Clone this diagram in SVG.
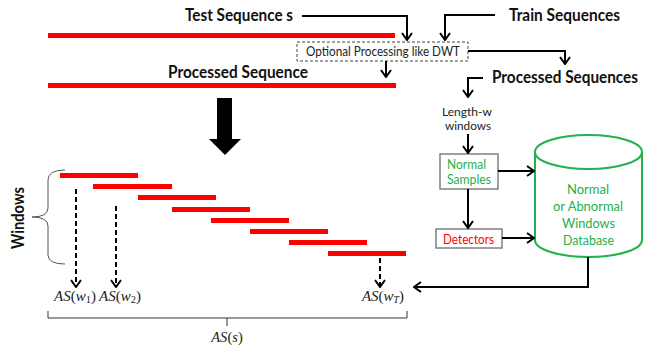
<svg xmlns="http://www.w3.org/2000/svg" width="653" height="350" viewBox="0 0 653 350">
<defs>
<marker id="ah" viewBox="0 0 10 12" refX="9" refY="6" markerWidth="10" markerHeight="12" markerUnits="userSpaceOnUse" orient="auto">
<path d="M2,1 L9,6 L2,11" fill="none" stroke="#000" stroke-width="2" stroke-dasharray="none"/>
</marker>
</defs>
<style>
.big{font-family:Lato,"Liberation Sans",sans-serif;font-weight:bold;font-size:16.5px;fill:#111;}
.sm{font-family:Lato,"Liberation Sans",sans-serif;font-size:13px;fill:#222;}
.xs{font-family:Lato,"Liberation Sans",sans-serif;font-size:12px;fill:#222;}
.gr{fill:#22b14c;}
.rd{fill:#ff0000;}
.bar{fill:#ff0000;}
.con{fill:none;stroke:#000;stroke-width:2;marker-end:url(#ah);}
.dash{stroke-dasharray:5,3;}
.box{fill:#fff;stroke:#808080;stroke-width:1.5;}
.math{font-family:"Liberation Serif",serif;font-size:14.5px;fill:#222;}
.it{font-style:italic;}
</style>
<rect width="653" height="350" fill="#fff"/>

<g id="test-sequence">
<text class="big" x="185" y="21" textLength="108" lengthAdjust="spacingAndGlyphs">Test Sequence s</text>
<rect class="bar" x="48" y="33" width="347" height="5"/>
</g>
<g id="train-sequences">
<text class="big" x="509" y="21" textLength="111" lengthAdjust="spacingAndGlyphs">Train Sequences</text>
</g>
<g id="processing">
<rect x="297" y="42" width="171" height="19" fill="#fff" stroke="#444" stroke-width="1" stroke-dasharray="3,2"/>
<text class="sm" x="306" y="56" textLength="154" lengthAdjust="spacingAndGlyphs">Optional Processing like DWT</text>
</g>
<g id="processed-sequence">
<text class="big" x="168" y="78" textLength="140" lengthAdjust="spacingAndGlyphs">Processed Sequence</text>
<rect class="bar" x="48" y="83" width="348" height="5"/>
</g>
<g id="processed-sequences">
<text class="big" x="492" y="83" textLength="146" lengthAdjust="spacingAndGlyphs">Processed Sequences</text>
</g>
<g id="length-w">
<text class="xs" x="442" y="116" textLength="50" lengthAdjust="spacingAndGlyphs">Length-w</text>
<text class="xs" x="445" y="130" textLength="46" lengthAdjust="spacingAndGlyphs">windows</text>
</g>
<g id="normal-samples">
<rect class="box" x="440" y="154" width="58" height="35"/>
<text class="sm gr" x="447" y="169" textLength="39" lengthAdjust="spacingAndGlyphs">Normal</text>
<text class="sm gr" x="447" y="184" textLength="44" lengthAdjust="spacingAndGlyphs">Samples</text>
</g>
<g id="detectors">
<rect class="box" x="436" y="229" width="66" height="19"/>
<text class="sm rd" x="443" y="244" textLength="51" lengthAdjust="spacingAndGlyphs">Detectors</text>
</g>
<g id="database">
<path d="M535,152 A53.5,17 0 0 1 642,152 V240 A53.5,17 0 0 1 535,240 Z" fill="#fff" stroke="#22b14c" stroke-width="2"/>
<path d="M535,152 A53.5,17 0 0 0 642,152" fill="none" stroke="#22b14c" stroke-width="2"/>
<text class="sm gr" x="567" y="194" textLength="42" lengthAdjust="spacingAndGlyphs">Normal</text>
<text class="sm gr" x="553" y="211" textLength="70" lengthAdjust="spacingAndGlyphs">or Abnormal</text>
<text class="sm gr" x="562" y="228" textLength="53" lengthAdjust="spacingAndGlyphs">Windows</text>
<text class="sm gr" x="563" y="245" textLength="51" lengthAdjust="spacingAndGlyphs">Database</text>
</g>
<g id="big-arrow">
<polygon points="217,98 232,98 232,139 241,139 225,155 209,139 217,139" fill="#000"/>
</g>
<g id="windows">
<rect class="bar" x="60" y="173" width="78" height="5"/>
<rect class="bar" x="93" y="184" width="79" height="5"/>
<rect class="bar" x="138" y="195" width="78" height="5"/>
<rect class="bar" x="172" y="207" width="78" height="5"/>
<rect class="bar" x="211" y="218" width="78" height="5"/>
<rect class="bar" x="250" y="229" width="78" height="5"/>
<rect class="bar" x="289" y="240" width="78" height="5"/>
<rect class="bar" x="328" y="251" width="78" height="5"/>
<path d="M65,170 Q48,170 48,180 L48,208 Q48,217 32,217 Q48,217 48,226 L48,255 Q48,264 65,264" fill="none" stroke="#555" stroke-width="1"/>
<text class="big" transform="translate(24,249) rotate(-90)" x="0" y="0" font-size="17.5" textLength="62" lengthAdjust="spacingAndGlyphs">Windows</text>
</g>
<g id="scores">
<text class="math" x="54" y="301" textLength="42" lengthAdjust="spacingAndGlyphs"><tspan class="it">AS</tspan>(<tspan class="it">w</tspan><tspan font-size="10" dy="2">1</tspan><tspan dy="-2">)</tspan></text>
<text class="math" x="99" y="301" textLength="42" lengthAdjust="spacingAndGlyphs"><tspan class="it">AS</tspan>(<tspan class="it">w</tspan><tspan font-size="10" dy="2">2</tspan><tspan dy="-2">)</tspan></text>
<text class="math" x="362" y="301" textLength="42" lengthAdjust="spacingAndGlyphs"><tspan class="it">AS</tspan>(<tspan class="it">w</tspan><tspan class="it" font-size="10" dy="2">T</tspan><tspan dy="-2">)</tspan></text>
<path d="M48,311 V318 H407 V311 M227,318 V326" fill="none" stroke="#333" stroke-width="1"/>
<text class="math" x="227" y="342" text-anchor="middle"><tspan class="it">AS</tspan>(<tspan class="it">s</tspan>)</text>
</g>
<g id="connectors">
<path class="con" d="M302,16 H407 V40"/>
<path class="con" d="M495,15 H445 V40"/>
<path class="con" d="M468,51 H565 V64"/>
<path class="con" d="M386,61 V77"/>
<path class="con" d="M483,78 H468 V97"/>
<path class="con" d="M468,134 V153"/>
<path class="con" d="M498,171 H534"/>
<path class="con" d="M468,189 V228"/>
<path class="con" d="M502,238 H534"/>
<path class="con" d="M588,257 V287 H414"/>
<path class="con dash" d="M76,189 V287"/>
<path class="con dash" d="M116,206 V287"/>
<path class="con dash" d="M380,258 V287"/>
</g>
</svg>
